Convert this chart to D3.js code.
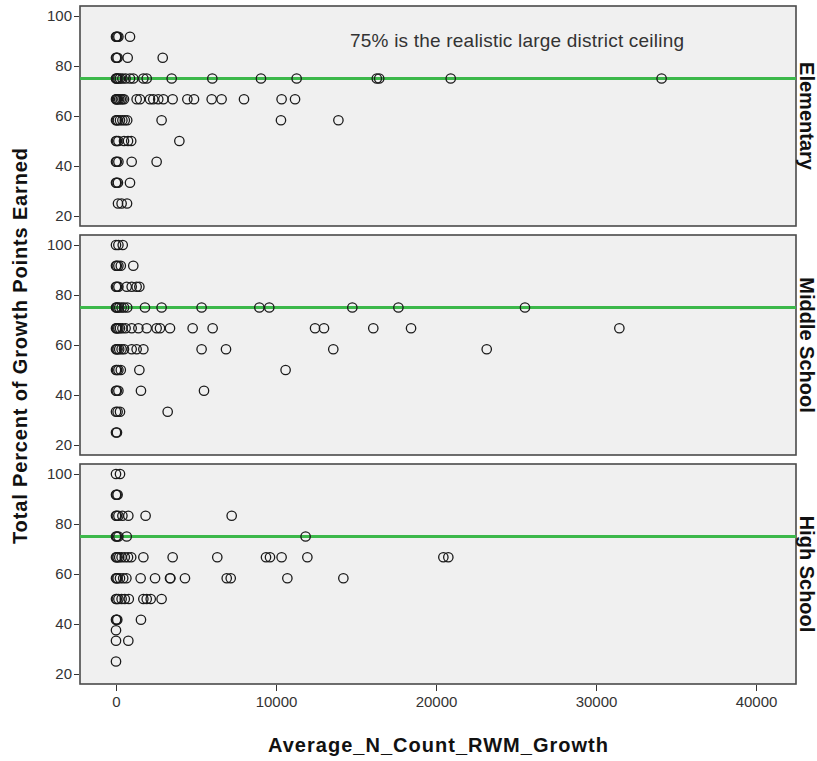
<!DOCTYPE html>
<html>
<head>
    <meta charset='utf-8'>
    <script src='https://d3js.org/d3.v7.min.js'></script>
    <title>Growth points by N count</title>
</head>
<body style="margin:0;background:#fff">
<style>
    body { font-family: "Liberation Sans", Arial, sans-serif; }
    .panel-bg { fill: #f0f0f0; stroke: #4a4a4a; stroke-width: 1.6; }
    .tick text { fill: #333; font-size: 15px; }
    .tick line { stroke: #333; }
    .ceiling { stroke: #3cb84a; stroke-width: 3; }
    .pt { fill: none; stroke: #1a1a1a; stroke-width: 1.3; }
    .title { font-weight: bold; font-size: 20px; fill: #111; }
    .facet { font-weight: bold; font-size: 20px; fill: #111; }
</style>
<div id='chart'></div>
<script>

    // rows of points: y = percent earned, x = average N count values on that row
    const elementary = [
        {y: 91.7, x: [0, 30, 80, 150, 875]},
        {y: 83.3, x: [0, 40, 100, 730, 2920]},
        {y: 75,   x: [0, 30, 80, 150, 250, 400, 600, 875, 1080, 1710, 1920, 3480, 6020, 9060, 11290, 16300, 16450, 20920, 34100]},
        {y: 66.7, x: [0, 20, 60, 120, 200, 300, 400, 500, 1290, 1500, 2125, 2330, 2640, 2960, 3540, 4460, 4875, 5980, 6600, 8000, 10350, 11190]},
        {y: 58.3, x: [0, 50, 120, 250, 400, 550, 700, 2850, 10310, 13900]},
        {y: 50,   x: [0, 60, 150, 500, 750, 950, 3960]},
        {y: 41.7, x: [0, 50, 150, 980, 2540]},
        {y: 33.3, x: [0, 40, 120, 875]},
        {y: 25,   x: [125, 350, 690]}
    ];
    const middle = [
        {y: 100,  x: [0, 150, 420]},
        {y: 91.7, x: [0, 50, 150, 300, 1080]},
        {y: 83.3, x: [0, 60, 150, 670, 980, 1290, 1460]},
        {y: 75,   x: [0, 40, 100, 200, 350, 500, 700, 1810, 2850, 5350, 8960, 9580, 14770, 17650, 25560]},
        {y: 66.7, x: [0, 30, 80, 150, 250, 400, 600, 980, 1400, 1920, 2540, 2750, 3375, 4790, 6040, 12440, 13000, 16080, 18440, 31460]},
        {y: 58.3, x: [0, 40, 100, 200, 350, 500, 980, 1290, 1710, 5350, 6875, 13580, 23170]},
        {y: 50,   x: [0, 60, 150, 300, 1460, 10600]},
        {y: 41.7, x: [0, 50, 150, 1560, 5500]},
        {y: 33.3, x: [0, 100, 250, 3230]},
        {y: 25,   x: [0, 60]}
    ];
    const high = [
        {y: 100,  x: [0, 250]},
        {y: 91.7, x: [0, 40, 100]},
        {y: 83.3, x: [0, 50, 150, 400, 770, 1850, 7230]},
        {y: 75,   x: [0, 60, 150, 670, 11850]},
        {y: 66.7, x: [0, 40, 100, 200, 350, 550, 750, 950, 1710, 3540, 6330, 9375, 9625, 10350, 11960, 20460, 20770]},
        {y: 58.3, x: [0, 40, 100, 250, 450, 650, 1540, 2440, 3375, 3400, 4310, 6920, 7170, 10710, 14210]},
        {y: 50,   x: [0, 50, 150, 350, 550, 800, 1710, 1920, 2170, 2850]},
        {y: 41.7, x: [0, 30, 80, 1560]},
        {y: 37.5, x: [0]},
        {y: 33.3, x: [0, 770]},
        {y: 25,   x: [0]}
    ];
    const facets = ['Elementary', 'Middle School', 'High School'];
    const panelData = [elementary, middle, high];
    const yTicks = [20, 40, 60, 80, 100];
    const xTicks = [0, 10000, 20000, 30000, 40000];
    const ceiling = 75;
    const note = '75% is the realistic large district ceiling';

    const W = 817, H = 761;
    const left = 80, right = 796;
    const panelH = 220, gap = 9, top0 = 6;

    var svg = d3.select('#chart').append('svg')
        .attr('width', W)
        .attr('height', H);

    const xScale = d3.scaleLinear()
        .domain([-2250, 42500])
        .range([left, right]);

    panelData.forEach(function(rows, i) {
        var top = top0 + i * (panelH + gap);
        var g = svg.append('g');

        var yScale = d3.scaleLinear()
            .domain([16, 104])
            .range([top + panelH, top]);

        g.append('rect')
            .attr('class', 'panel-bg')
            .attr('x', left)
            .attr('y', top)
            .attr('width', right - left)
            .attr('height', panelH);

        var yAxis = g.append('g')
            .attr('transform', 'translate(' + (left - 1) + ',0)')
            .call(d3.axisLeft(yScale).tickValues(yTicks).tickSize(5).tickPadding(2));
        yAxis.select('.domain').remove();

        g.append('line')
            .attr('class', 'ceiling')
            .attr('x1', left)
            .attr('x2', right)
            .attr('y1', yScale(ceiling))
            .attr('y2', yScale(ceiling));

        var pts = [];
        rows.forEach(function(r) {
            r.x.forEach(function(v) { pts.push({x: v, y: r.y}); });
        });

        g.selectAll('circle.pt')
            .data(pts)
            .enter().append('circle')
            .attr('class', 'pt')
            .attr('cx', d => xScale(d.x))
            .attr('cy', d => yScale(d.y))
            .attr('r', 4.7);

        g.append('text')
            .attr('class', 'facet')
            .attr('transform', 'translate(' + (right + 4) + ',' + (top + panelH / 2) + ') rotate(90)')
            .attr('text-anchor', 'middle')
            .text(facets[i]);

        if (i == 0) {
            g.append('text')
                .attr('x', 517)
                .attr('y', 47)
                .attr('text-anchor', 'middle')
                .attr('textLength', 334)
                .style('font-size', '19px')
                .style('fill', '#333')
                .text(note);
        }
    });

    var bottom = top0 + 3 * panelH + 2 * gap;
    var xAxis = svg.append('g')
        .attr('transform', 'translate(0,' + (bottom + 1) + ')')
        .call(d3.axisBottom(xScale).tickValues(xTicks).tickSize(6).tickPadding(5).tickFormat(d3.format('d')));
    xAxis.select('.domain').remove();

    svg.append('text')
        .attr('class', 'title')
        .attr('x', 438)
        .attr('y', 752)
        .attr('text-anchor', 'middle')
        .attr('textLength', 340)
        .text('Average_N_Count_RWM_Growth');

    svg.append('text')
        .attr('class', 'title')
        .attr('transform', 'translate(27,346) rotate(-90)')
        .attr('text-anchor', 'middle')
        .attr('textLength', 396)
        .text('Total Percent of Growth Points Earned');

</script>
</body>
</html>
